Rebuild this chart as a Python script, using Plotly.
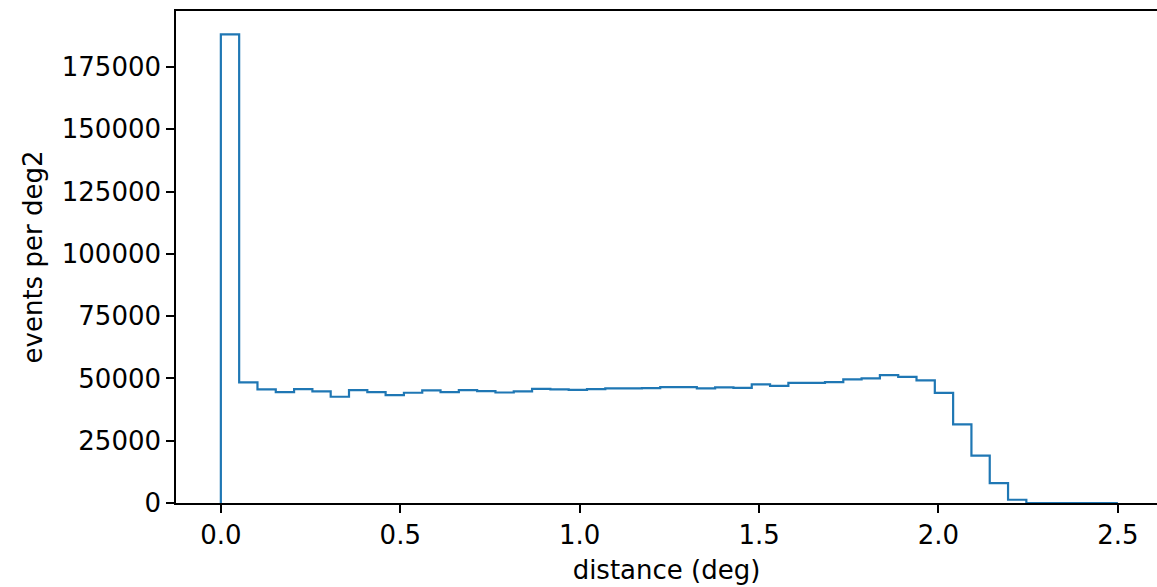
import numpy as np
import plotly.graph_objects as go

# histogram: 49 bins between 0 and 2.5 deg (edges from np.linspace(0, 2.5, 50))
bin_min = 0.0
bin_max = 2.5
n_edges = 50

# events per deg2 in each bin
counts = [
    188100, 48400, 45600, 44500, 45700, 44800, 42650, 45300, 44500, 43300,
    44250, 45200, 44500, 45300, 44900, 44350, 44800, 45800, 45650, 45400,
    45700, 46000, 46050, 46100, 46550, 46500, 46000, 46400, 46250, 47600,
    47050, 48250, 48250, 48500, 49600, 50000, 51300, 50650, 49200, 44200,
    31550, 19000, 8000, 1300, 0, 0, 0, 0, 0,
]

x_ticks = [0.0, 0.5, 1.0, 1.5, 2.0, 2.5]
y_ticks = [0, 25000, 50000, 75000, 100000, 125000, 150000, 175000]

edges = np.linspace(bin_min, bin_max, n_edges)

# step outline like matplotlib histtype='step'
xs = np.concatenate([[edges[0]], edges[:-1], [edges[-1], edges[-1]]])
ys = np.concatenate([[0], counts, [counts[-1], 0]])

fig = go.Figure()
fig.add_trace(go.Scatter(x=xs, y=ys, mode='lines', line_shape='hv',
                         line=dict(color='#1f77b4', width=2.2),
                         showlegend=False, hoverinfo='skip'))

font = dict(family='DejaVu Sans', size=26, color='black')
fig.update_layout(
    width=1157, height=587,
    margin=dict(l=176, r=0, t=11, b=84),
    paper_bgcolor='white', plot_bgcolor='white',
    font=font,
    xaxis=dict(range=[-0.125, 2.609], tickvals=x_ticks,
               ticktext=[f'{v:.1f}' for v in x_ticks],
               tickfont=font,
               showgrid=False, zeroline=False,
               showline=True, linecolor='black', linewidth=1.5, mirror=True,
               ticks='outside', ticklen=8, tickwidth=1.5, tickcolor='black',
               title=dict(text='distance (deg)', font=font, standoff=12)),
    yaxis=dict(range=[0, 197500], tickvals=y_ticks,
               ticktext=[str(v) for v in y_ticks],
               tickfont=font,
               showgrid=False, zeroline=False,
               showline=True, linecolor='black', linewidth=1.5,
               ticks='outside', ticklen=8, tickwidth=1.5, tickcolor='black',
               title=dict(text='events per deg2', font=font, standoff=12)),
)

# the page body has a default 8px margin; drop it so the figure fills the window
fig.write_html("out.html", config={'displayModeBar': False},
               post_script="document.body.style.margin='0';")
